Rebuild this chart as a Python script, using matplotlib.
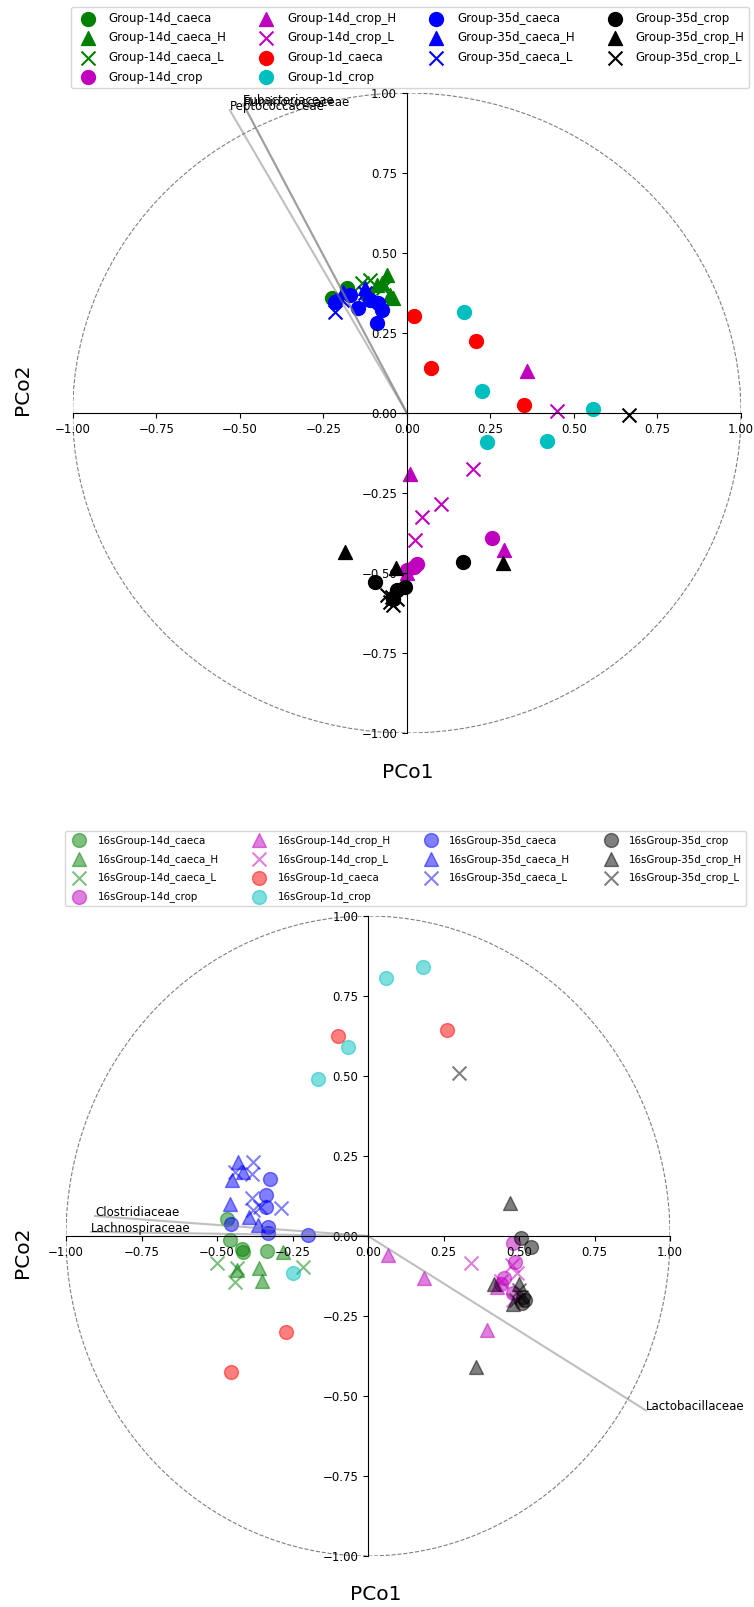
import numpy as np
import matplotlib.pyplot as plt
from matplotlib.patches import Circle

W, H = 754, 1607

groups = ['Group-14d_caeca', 'Group-14d_caeca_H', 'Group-14d_caeca_L', 'Group-14d_crop',
          'Group-14d_crop_H', 'Group-14d_crop_L', 'Group-1d_caeca', 'Group-1d_crop',
          'Group-35d_caeca', 'Group-35d_caeca_H', 'Group-35d_caeca_L',
          'Group-35d_crop', 'Group-35d_crop_H', 'Group-35d_crop_L']
colors = ['g', 'g', 'g', 'm', 'm', 'm', 'r', 'c', 'b', 'b', 'b', 'k', 'k', 'k']
markers = ['o', '^', 'x', 'o', '^', 'x', 'o', 'o', 'o', '^', 'x', 'o', '^', 'x']

# PCoA coordinates, first dataset
top_x = [
    [-0.225, -0.18, -0.12],
    [-0.06, -0.04, -0.075, -0.09, -0.05],
    [-0.135, -0.11, -0.07],
    [0.256, 0.03, 0.0, 0.02],
    [0.01, 0.292, 0.359, 0.0],
    [0.448, 0.197, 0.101, 0.045, 0.025],
    [0.022, 0.072, 0.206, 0.35],
    [0.172, 0.224, 0.239, 0.42, 0.558],
    [-0.215, -0.17, -0.145, -0.085, -0.075, -0.088, -0.11],
    [-0.125, -0.19],
    [-0.215, -0.125, -0.195],
    [0.169, -0.095, -0.007, -0.03, -0.04],
    [-0.185, -0.033, 0.289, -0.04],
    [0.666, -0.045, -0.05, -0.04, -0.06, -0.03],
]
top_y = [
    [0.358, 0.39, 0.37],
    [0.431, 0.358, 0.405, 0.4, 0.37],
    [0.407, 0.416, 0.39],
    [-0.392, -0.473, -0.49, -0.48],
    [-0.19, -0.428, 0.13, -0.5],
    [0.005, -0.175, -0.284, -0.324, -0.397],
    [0.304, 0.14, 0.225, 0.024],
    [0.315, 0.069, -0.09, -0.088, 0.011],
    [0.348, 0.369, 0.327, 0.343, 0.322, 0.28, 0.353],
    [0.39, 0.379],
    [0.317, 0.374, 0.353],
    [-0.465, -0.527, -0.543, -0.553, -0.58],
    [-0.433, -0.485, -0.468, -0.56],
    [-0.005, -0.574, -0.59, -0.6, -0.57, -0.58],
]
top_taxa = ['Eubacteriaceae', 'Ruminococcaceae', 'Peptococcaceae']
top_load_x = [-0.49, -0.487, -0.53]
top_load_y = [0.966, 0.96, 0.947]

# PCoA coordinates, 16s dataset
bot_x = [
    [-0.468, -0.457, -0.418, -0.415, -0.333],
    [-0.435, -0.36, -0.352, -0.282],
    [-0.501, -0.44, -0.435, -0.216],
    [0.479, 0.487, 0.45, 0.481, 0.44],
    [0.067, 0.185, 0.393, 0.428],
    [0.34, 0.476, 0.492, 0.44, 0.48],
    [-0.1, 0.26, -0.27, -0.455],
    [0.061, 0.183, -0.065, -0.165, -0.25],
    [-0.325, -0.339, -0.339, -0.33, -0.33, -0.2, -0.455],
    [-0.431, -0.413, -0.451, -0.457, -0.394, -0.365],
    [-0.382, -0.44, -0.385, -0.383, -0.38, -0.289, -0.358],
    [0.506, 0.54, 0.514, 0.51, 0.52],
    [0.47, 0.417, 0.358, 0.481, 0.5],
    [0.3, 0.5, 0.505, 0.49],
]
bot_y = [
    [0.053, -0.0125, -0.042, -0.049, -0.046],
    [-0.106, -0.099, -0.14, -0.049],
    [-0.085, -0.143, -0.1, -0.098],
    [-0.023, -0.08, -0.132, -0.177, -0.15],
    [-0.06, -0.13, -0.294, -0.158],
    [-0.085, -0.09, -0.115, -0.14, -0.2],
    [0.625, 0.645, -0.30, -0.425],
    [0.805, 0.84, 0.59, 0.49, -0.115],
    [0.177, 0.128, 0.09, 0.029, 0.008, 0.003, 0.0375],
    [0.232, 0.2, 0.175, 0.1, 0.058, 0.034],
    [0.232, 0.2, 0.194, 0.118, 0.081, 0.087, 0.092],
    [-0.007, -0.035, -0.19, -0.21, -0.2],
    [0.104, -0.151, -0.408, -0.213, -0.15],
    [0.51, -0.17, -0.19, -0.2],
]
bot_taxa = ['Clostridiaceae', 'Lachnospiraceae', 'Lactobacillaceae']
bot_load_x = [-0.904, -0.917, 0.92]
bot_load_y = [0.0625, 0.013, -0.545]


def px_axes(fig, left, top, right, bottom):
    return fig.add_axes([left / W, 1 - bottom / H, (right - left) / W, (bottom - top) / H])


def draw_pcoa(ax, xs, ys, prefix, alpha, taxa, lx, ly):
    for i in range(len(groups)):
        ax.scatter(xs[i], ys[i], s=100, c=colors[i], marker=markers[i],
                   alpha=alpha, label=prefix + groups[i])
    for name, x, y in zip(taxa, lx, ly):
        ax.plot([0, x], [0, y], color='grey', alpha=0.5, lw=1.5)
        ax.text(x, y, name, fontsize=8.5)
    ax.add_patch(Circle((0, 0), 1, fill=False, ls='--', color='grey', lw=0.8))
    ax.set_xlim(-1, 1)
    ax.set_ylim(-1, 1)
    ax.set_xticks(np.arange(-1, 1.01, 0.25))
    ax.set_yticks(np.arange(-1, 1.01, 0.25))
    ax.tick_params(labelsize=8.5)
    ax.spines['left'].set_position('zero')
    ax.spines['bottom'].set_position('zero')
    ax.spines['right'].set_visible(False)
    ax.spines['top'].set_visible(False)


fig = plt.figure(figsize=(W / 100, H / 100), dpi=100)

ax1 = px_axes(fig, 72.7, 93, 741, 733)
draw_pcoa(ax1, top_x, top_y, '', 1.0, top_taxa, top_load_x, top_load_y)
ax1.legend(loc='upper left', bbox_to_anchor=(71 / W, 1 - 7 / H), borderaxespad=0,
           bbox_transform=fig.transFigure, ncol=4, fontsize=8.5, labelspacing=0.56,
           columnspacing=2.35)

ax2 = px_axes(fig, 66, 916, 670, 1556)
draw_pcoa(ax2, bot_x, bot_y, '16s', 0.5, bot_taxa, bot_load_x, bot_load_y)
ax2.legend(loc='upper left', bbox_to_anchor=(65 / W, 1 - 831 / H), borderaxespad=0,
           bbox_transform=fig.transFigure, ncol=4, fontsize=7.4, labelspacing=0.76,
           columnspacing=2.9)

fig.text(408 / W, 1 - 773 / H, 'PCo1', fontsize=14.5, ha='center', va='center')
fig.text(22.5 / W, 1 - 389 / H, 'PCo2', fontsize=14.5, ha='center', va='center', rotation=90)
fig.text(376 / W, 1 - 1594 / H, 'PCo1', fontsize=14.5, ha='center', va='center')
fig.text(22.5 / W, 1 - 1252 / H, 'PCo2', fontsize=14.5, ha='center', va='center', rotation=90)

fig.savefig('out.png', dpi=100)
